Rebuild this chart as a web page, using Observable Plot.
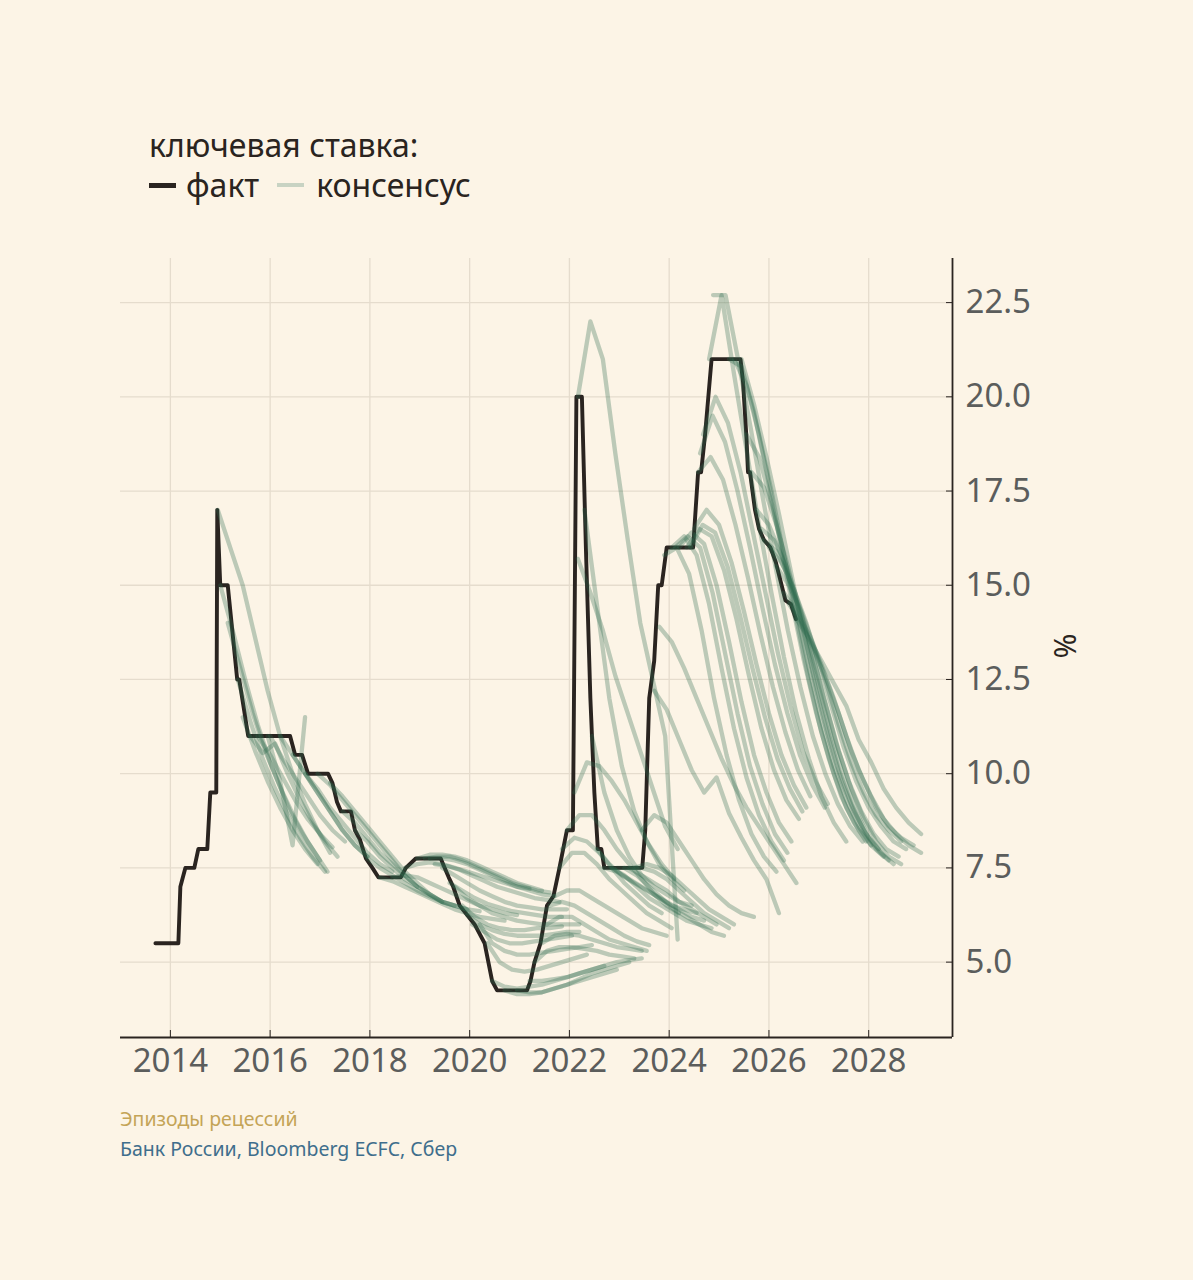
<!DOCTYPE html>
<html lang="ru">
<head>
<meta charset="utf-8">
<script src="https://cdn.jsdelivr.net/npm/d3@7"></script>
<script src="https://cdn.jsdelivr.net/npm/@observablehq/plot@0.6"></script>
<style>
  html, body { margin: 0; padding: 0; background: #fcf4e6; }
  body { width: 1193px; height: 1280px; position: relative; overflow: hidden; font-family: "Noto Sans", sans-serif; }
  #legend { position: absolute; left: 149px; top: 125px; color: #2a2420; font-size: 32px; line-height: 40px; }
  #legend .row { display: flex; align-items: center; white-space: nowrap; }
  #legend .sw { display: inline-block; width: 27px; height: 5px; margin-right: 10px; }
  #chart { position: absolute; left: 0; top: 230px; }
  #ylab { position: absolute; left: 1050px; top: 628px; width: 30px; height: 36px; font-size: 30px; line-height: 36px; color: #2a2420; transform: rotate(90deg); text-align: center; }
  #caption { position: absolute; left: 120px; top: 1104px; font-size: 19.5px; line-height: 30px; }
</style>
</head>
<body>
<div id="legend">
  <div>ключевая ставка:</div>
  <div class="row"><span class="sw" style="background:#2a2420"></span><span>факт</span><span class="sw" style="background:#c8d3c3;height:4px;margin-left:18px;margin-right:12px"></span><span>консенсус</span></div>
</div>
<div id="chart"></div>
<div id="ylab">%</div>
<div id="caption">
  <div style="color:#c4a457">Эпизоды рецессий</div>
  <div style="color:#3f6e8c">Банк России, Bloomberg ECFC, Сбер</div>
</div>
<script>
// ---- data ----
const xTicks = [2014, 2016, 2018, 2020, 2022, 2024, 2026, 2028];
const yTicks = [5.0, 7.5, 10.0, 12.5, 15.0, 17.5, 20.0, 22.5];
const xDomain = [2013.0, 2029.68];
const yDomain = [3.0, 23.67];

// key rate, fact: [year, %]
const fact = [
  [2013.70,5.5],[2014.16,5.5],[2014.20,7.0],[2014.30,7.5],[2014.48,7.5],[2014.56,8.0],[2014.74,8.0],
  [2014.80,9.5],[2014.92,9.5],[2014.94,17.0],[2015.00,15.0],[2015.15,15.0],[2015.34,12.5],[2015.38,12.5],
  [2015.56,11.0],[2016.40,11.0],[2016.50,10.5],[2016.64,10.5],[2016.76,10.0],[2017.16,10.0],[2017.25,9.75],
  [2017.34,9.25],[2017.42,9.0],[2017.62,9.0],[2017.70,8.5],[2017.80,8.25],[2017.92,7.75],[2018.05,7.5],
  [2018.17,7.25],[2018.62,7.25],[2018.72,7.5],[2018.92,7.75],[2019.42,7.75],[2019.50,7.5],[2019.58,7.25],
  [2019.67,7.0],[2019.80,6.5],[2019.95,6.25],[2020.10,6.0],[2020.30,5.5],[2020.45,4.5],[2020.55,4.25],
  [2021.15,4.25],[2021.22,4.5],[2021.30,5.0],[2021.42,5.5],[2021.55,6.5],[2021.68,6.75],[2021.80,7.5],
  [2021.95,8.5],[2022.07,8.5],[2022.14,20.0],[2022.25,20.0],[2022.33,16.0],[2022.42,12.0],[2022.50,9.5],
  [2022.57,8.0],[2022.64,8.0],[2022.70,7.5],[2023.46,7.5],[2023.52,8.5],[2023.60,12.0],[2023.70,13.0],
  [2023.78,15.0],[2023.85,15.0],[2023.95,16.0],[2024.48,16.0],[2024.58,18.0],[2024.64,18.0],[2024.72,19.0],
  [2024.85,21.0],[2025.43,21.0],[2025.48,20.4],[2025.55,18.9],[2025.58,18.0],[2025.62,18.0],[2025.72,17.0],
  [2025.80,16.5],[2025.90,16.2],[2026.03,16.0],[2026.14,15.6],[2026.33,14.6],[2026.44,14.5],[2026.54,14.1]
];

// consensus forecasts: [survey year, quarterly values %]
const consensus = [
  [2014.95, [17.0, 16.0, 15.0, 13.6, 12.2, 11.0, 10.0, 9.2, 8.5, 7.9]],
  [2015.00, [15.0, 13.8, 12.5, 11.3, 10.3, 9.5, 8.8, 8.2, 7.7]],
  [2015.15, [14.0, 12.8, 11.6, 10.6, 9.8, 9.0, 8.4, 7.9, 7.4]],
  [2015.35, [12.5, 11.4, 10.4, 9.6, 8.9, 8.3, 7.8, 7.4]],
  [2015.45, [11.5, 10.6, 9.8, 9.1, 8.5, 8.0, 7.6]],
  [2015.60, [11.0, 10.55, 10.8, 10.0, 9.3, 8.7, 8.2, 7.8]],
  [2015.75, [11.0, 10.5, 9.9, 9.3, 8.8, 8.4, 8.05]],
  [2015.95, [11.0, 9.8, 8.1, 11.5]],
  [2016.00, [11.0, 10.4, 9.9, 9.4, 8.9, 8.5, 8.2]],
  [2016.20, [11.0, 10.5, 10.0, 9.5, 9.0, 8.5, 8.1, 7.8]],
  [2016.45, [10.5, 10.0, 9.5, 9.0, 8.5, 8.1, 7.8]],
  [2016.70, [10.0, 9.6, 9.1, 8.7, 8.3, 7.9, 7.6, 7.4]],
  [2016.95, [10.0, 9.7, 9.3, 8.9, 8.5, 8.1, 7.7, 7.3, 7.0]],
  [2017.20, [9.75, 9.4, 9.0, 8.6, 8.2, 7.8, 7.4, 7.1, 6.8, 6.6]],
  [2017.45, [9.0, 8.7, 8.3, 7.9, 7.6, 7.3, 7.0, 6.8, 6.6, 6.5]],
  [2017.70, [8.5, 8.2, 7.8, 7.5, 7.2, 7.0, 6.8, 6.6, 6.5, 6.4]],
  [2017.95, [7.75, 7.5, 7.3, 7.1, 6.9, 6.75, 6.6, 6.5, 6.4, 6.35]],
  [2018.20, [7.25, 7.15, 7.0, 6.85, 6.7, 6.55, 6.4, 6.3, 6.2, 6.15, 6.1]],
  [2018.45, [7.25, 7.3, 7.25, 7.1, 6.95, 6.8, 6.65, 6.5, 6.4, 6.3, 6.25]],
  [2018.70, [7.5, 7.6, 7.65, 7.6, 7.5, 7.4, 7.3, 7.2, 7.1, 7.0, 6.95]],
  [2018.95, [7.75, 7.85, 7.85, 7.8, 7.7, 7.55, 7.4, 7.25, 7.1, 7.0, 6.9]],
  [2019.10, [7.75, 7.8, 7.8, 7.7, 7.55, 7.4, 7.25, 7.1, 7.0, 6.9, 6.85]],
  [2019.20, [7.75, 7.75, 7.7, 7.6, 7.45, 7.3, 7.15, 7.0, 6.9, 6.8, 6.75]],
  [2019.30, [7.6, 7.55, 7.45, 7.3, 7.15, 7.0, 6.9, 6.8, 6.7, 6.65, 6.6]],
  [2019.45, [7.5, 7.3, 7.1, 6.9, 6.75, 6.6, 6.5, 6.45, 6.4, 6.4, 6.4]],
  [2019.60, [7.1, 6.9, 6.7, 6.55, 6.45, 6.35, 6.3, 6.25, 6.2, 6.2]],
  [2019.70, [7.0, 6.7, 6.5, 6.3, 6.2, 6.1, 6.05, 6.0, 6.0, 6.0, 6.0]],
  [2019.85, [6.5, 6.2, 6.0, 5.9, 5.85, 5.85, 5.9, 5.9, 5.95]],
  [2019.95, [6.25, 6.0, 5.85, 5.75, 5.7, 5.7, 5.7, 5.75, 5.8, 5.8]],
  [2020.05, [6.0, 5.8, 5.6, 5.5, 5.5, 5.55, 5.6, 5.65, 5.7]],
  [2020.20, [6.0, 5.5, 5.3, 5.2, 5.2, 5.25, 5.3, 5.35, 5.4, 5.45]],
  [2020.35, [5.5, 5.0, 4.8, 4.75, 4.8, 4.9, 5.0, 5.1, 5.2]],
  [2020.45, [4.5, 4.35, 4.3, 4.35, 4.4, 4.5, 4.6, 4.7, 4.8, 4.9]],
  [2020.70, [4.25, 4.15, 4.15, 4.2, 4.3, 4.4, 4.5, 4.6, 4.7, 4.8]],
  [2020.95, [4.25, 4.2, 4.2, 4.3, 4.4, 4.55, 4.7, 4.8, 4.9, 5.0]],
  [2021.20, [4.5, 4.5, 4.55, 4.6, 4.7, 4.8, 4.9, 5.0, 5.05, 5.1]],
  [2021.30, [5.0, 5.3, 5.4, 5.4, 5.35, 5.3, 5.2, 5.15, 5.1]],
  [2021.45, [5.5, 5.7, 5.75, 5.7, 5.6, 5.5, 5.4, 5.35, 5.3]],
  [2021.55, [6.0, 6.2, 6.2, 6.0, 5.8, 5.6, 5.5, 5.4, 5.3]],
  [2021.60, [6.5, 6.6, 6.5, 6.3, 6.1, 5.9, 5.7, 5.55, 5.45]],
  [2021.70, [6.75, 6.9, 6.9, 6.7, 6.5, 6.3, 6.1, 5.9, 5.8, 5.7]],
  [2021.80, [7.5, 7.9, 7.9, 7.6, 7.2, 6.9, 6.6, 6.3, 6.1, 5.9]],
  [2021.85, [8.0, 8.3, 8.2, 7.9, 7.5, 7.1, 6.8, 6.5, 6.3]],
  [2021.95, [8.5, 8.9, 8.9, 8.5, 8.0, 7.6, 7.2, 6.8, 6.5, 6.3]],
  [2022.10, [9.5, 10.3, 10.2, 9.8, 9.3, 8.7, 8.1, 7.6, 7.2]],
  [2022.17, [20.0, 22.0, 21.0, 18.5, 16.2, 14.0, 12.5, 11.0, 5.6]],
  [2022.17, [15.7, 14.8, 13.8, 12.6, 11.6, 10.6, 9.6, 8.6, 8.0]],
  [2022.30, [17.0, 14.5, 12.0, 10.2, 9.0, 8.2, 7.6, 7.2, 6.9]],
  [2022.45, [11.0, 9.5, 8.5, 7.8, 7.3, 7.0, 6.8, 6.6, 6.5]],
  [2022.55, [8.0, 7.6, 7.3, 7.1, 6.9, 6.7, 6.5, 6.4, 6.3]],
  [2022.70, [7.5, 7.4, 7.2, 7.0, 6.8, 6.6, 6.4, 6.2, 6.1]],
  [2022.85, [7.5, 7.3, 7.0, 6.7, 6.5, 6.3, 6.1, 6.0, 5.9]],
  [2022.95, [7.5, 7.5, 7.3, 7.1, 6.9, 6.6, 6.4, 6.2, 6.0]],
  [2023.10, [7.5, 7.3, 7.0, 6.7, 6.4, 6.2, 6.0, 5.8, 5.7]],
  [2023.20, [7.5, 7.5, 7.4, 7.2, 6.9, 6.6, 6.3, 6.1, 5.9]],
  [2023.30, [7.5, 7.6, 7.5, 7.3, 7.0, 6.7, 6.4, 6.2, 6.0]],
  [2023.45, [8.5, 8.9, 8.7, 8.2, 7.7, 7.2, 6.8, 6.5, 6.3, 6.2]],
  [2023.70, [12.2, 11.7, 10.9, 10.1, 9.5, 9.9, 8.95, 8.3, 7.7, 7.2, 6.3]],
  [2023.80, [13.9, 13.5, 12.8, 12.0, 11.2, 10.4, 9.7, 9.1, 8.6, 8.1, 7.6, 7.1]],
  [2023.90, [15.8, 16.0, 15.3, 13.8, 12.0, 10.5, 9.3, 8.4, 7.8, 7.4]],
  [2024.05, [16.0, 16.3, 15.8, 14.5, 12.8, 11.2, 9.9, 8.9, 8.2, 7.7]],
  [2024.12, [16.0, 16.3, 16.0, 14.8, 13.2, 11.6, 10.2, 9.2, 8.4, 7.9]],
  [2024.20, [16.0, 16.4, 16.1, 15.0, 13.5, 11.9, 10.5, 9.5, 8.7, 8.2]],
  [2024.35, [16.0, 16.5, 16.3, 15.4, 14.1, 12.6, 11.2, 10.1, 9.3, 8.8]],
  [2024.42, [16.0, 16.6, 16.4, 15.5, 14.2, 12.8, 11.5, 10.4, 9.6, 9.0]],
  [2024.50, [16.5, 17.0, 16.6, 15.6, 14.3, 12.9, 11.6, 10.5, 9.7, 9.1]],
  [2024.58, [18.0, 18.4, 17.8, 16.6, 15.2, 13.7, 12.3, 11.1, 10.1, 9.4]],
  [2024.62, [18.5, 19.5, 18.8, 17.5, 16.0, 14.4, 12.9, 11.6, 10.5, 9.7, 9.1]],
  [2024.68, [19.0, 20.0, 19.3, 18.0, 16.4, 14.8, 13.2, 11.8, 10.6, 9.8, 9.2]],
  [2024.80, [21.0, 22.7, 20.6, 18.6, 16.6, 14.8, 13.1, 11.6, 10.4, 9.4, 8.7, 8.2]],
  [2024.88, [22.7, 22.7, 21.0, 19.2, 17.3, 15.5, 13.8, 12.3, 11.0, 10.0, 9.2, 8.6, 8.2]],
  [2025.20, [21.0, 20.8, 19.6, 18.0, 16.3, 14.6, 13.0, 11.6, 10.4, 9.4, 8.7, 8.2]],
  [2025.30, [21.0, 20.3, 19.0, 17.5, 15.8, 14.1, 12.5, 11.1, 10.0, 9.1, 8.5, 8.1]],
  [2025.45, [21.0, 19.8, 18.4, 16.9, 15.3, 13.7, 12.2, 10.9, 9.8, 9.0, 8.4, 8.0]],
  [2025.55, [19.0, 18.4, 17.2, 15.8, 14.3, 12.8, 11.4, 10.2, 9.3, 8.6, 8.1, 7.8]],
  [2025.65, [18.0, 17.6, 16.6, 15.4, 14.0, 12.6, 11.3, 10.1, 9.2, 8.5, 8.0, 7.7]],
  [2025.75, [17.0, 16.6, 15.8, 14.8, 13.6, 12.3, 11.0, 9.9, 9.0, 8.3, 7.9, 7.6]],
  [2025.85, [16.5, 16.2, 15.5, 14.5, 13.3, 12.0, 10.8, 9.8, 9.0, 8.4, 8.0, 7.8]],
  [2025.90, [16.2, 15.9, 15.2, 14.2, 13.0, 11.8, 10.6, 9.6, 8.8, 8.2, 7.8, 7.6]],
  [2026.00, [16.0, 15.6, 14.9, 14.0, 12.9, 11.8, 10.7, 9.8, 9.1, 8.6, 8.2, 8.0]],
  [2026.15, [15.5, 15.0, 14.3, 13.4, 12.4, 11.3, 10.3, 9.5, 8.9, 8.5, 8.2]],
  [2026.30, [14.8, 14.3, 13.7, 12.9, 12.0, 11.0, 10.1, 9.4, 8.8, 8.4, 8.1, 7.9]],
  [2026.40, [14.5, 14.0, 13.3, 12.5, 11.6, 10.6, 9.8, 9.1, 8.6, 8.3, 8.1]],
  [2026.55, [14.1, 13.6, 13.0, 12.4, 11.8, 10.9, 10.3, 9.6, 9.1, 8.7, 8.4]]
];

// ---- tables for Plot ----
const factRows = fact.map(([t, v]) => ({t, v}));
const consRows = consensus.flatMap(([t0, vals], id) => vals.map((v, j) => ({id, t: t0 + j * 0.25, v})));

const ink = "#2a2420";
const grid = "#e5dccd";
const tickText = "#5b5d5c";

const chart = Plot.plot({
  width: 1193,
  height: 870,
  marginTop: 28,
  marginBottom: 63,
  marginLeft: 120,
  marginRight: 241,
  style: {background: "transparent", fontFamily: "Noto Sans", overflow: "visible"},
  x: {domain: xDomain},
  y: {domain: yDomain},
  marks: [
    Plot.gridX(xTicks, {stroke: grid, strokeOpacity: 1, strokeWidth: 1.3}),
    Plot.gridY(yTicks, {stroke: grid, strokeOpacity: 1, strokeWidth: 1.3}),
    Plot.line(factRows, {x: "t", y: "v", stroke: ink, strokeWidth: 3.9}),
    Plot.line(consRows, {x: "t", y: "v", z: "id", stroke: "#2d6a4f", strokeOpacity: 0.31, strokeWidth: 4.3}),
    Plot.ruleY([yDomain[0]], {stroke: ink, strokeWidth: 1.8}),
    Plot.ruleX([xDomain[1]], {stroke: ink, strokeWidth: 1.8}),
    Plot.axisX(xTicks, {tickSize: -7, tickFormat: () => "", stroke: ink, label: null}),
    Plot.axisX(xTicks, {tickSize: 0, tickPadding: 11, fontSize: 33, fill: tickText, tickFormat: (d) => String(d), label: null}),
    Plot.axisY(yTicks, {anchor: "right", tickSize: -7, tickFormat: () => "", stroke: ink, label: null}),
    Plot.axisY(yTicks, {anchor: "right", tickSize: 0, tickPadding: 13, fontSize: 33, fill: tickText, tickFormat: (d) => d.toFixed(1), label: null})
  ]
});
document.getElementById("chart").appendChild(chart);
</script>
</body>
</html>
